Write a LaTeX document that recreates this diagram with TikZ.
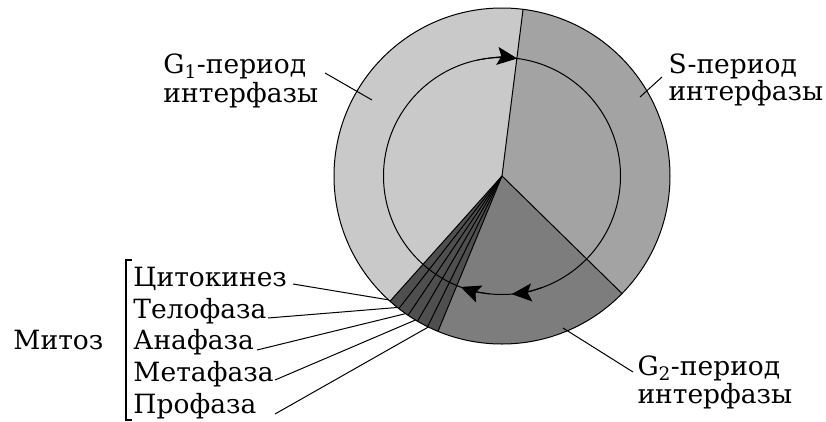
\documentclass[tikz,border=0pt]{standalone}
\usepackage{fontspec}
\setmainfont{DejaVu Serif}
\usetikzlibrary{arrows.meta}
\definecolor{cgone}{gray}{0.79}
\definecolor{cs}{gray}{0.64}
\definecolor{cgtwo}{gray}{0.49}
\definecolor{cmit}{gray}{0.31}
\begin{document}
\begin{tikzpicture}[x=1pt,y=1pt,line width=1pt,
  lbl/.style={anchor=base west,inner sep=0pt,font=\fontsize{26.5}{31}\selectfont},
  leader/.style={line width=1pt},
  cyc/.style={-{Stealth[length=20pt,width=18pt,inset=4pt]}}]
\useasboundingbox (-502,-245) rectangle (324,176);
% sectors
\fill[cgone] (0,0) -- (82.8:168pt) arc[start angle=82.8,end angle=228.2,radius=168pt] -- cycle;
\fill[cs] (0,0) -- (-44.4:168pt) arc[start angle=-44.4,end angle=82.8,radius=168pt] -- cycle;
\fill[cgtwo] (0,0) -- (-112.4:168pt) arc[start angle=-112.4,end angle=-44.4,radius=168pt] -- cycle;
\fill[cmit] (0,0) -- (228.2:168pt) arc[start angle=228.2,end angle=247.6,radius=168pt] -- cycle;
% boundaries
\foreach \a in {82.8,-44.4,247.6,228.2,232.1,236.0,239.8,243.7}
  \draw (0,0) -- (\a:168pt);
\draw (0,0) circle[radius=168pt];
% inner cycle
\draw (0,0) circle[radius=118.5pt];
\draw[cyc] (102:118.5pt) arc[start angle=102,end angle=82.6,radius=118.5pt];
\draw[cyc] (264:118.5pt) arc[start angle=264,end angle=249.5,radius=118.5pt];
\draw[cyc] (290:118.5pt) arc[start angle=290,end angle=274.7,radius=118.5pt];
% labels
\node[lbl] (g1a) at (-339,103) {G\textsubscript{1}-период};
\node[lbl] (g1b) at (-339,74) {интерфазы};
\node[lbl] (sa) at (166,103) {S-период};
\node[lbl] (sb) at (166,76) {интерфазы};
\node[lbl] (g2a) at (135,-199) {G\textsubscript{2}-период};
\node[lbl] (g2b) at (135,-227) {интерфазы};
\node[lbl] (mit) at (-489,-173) {Митоз};
\node[lbl] (cyt) at (-369,-110) {Цитокинез};
\node[lbl] (tel) at (-369,-142) {Телофаза};
\node[lbl] (ana) at (-369,-173) {Анафаза};
\node[lbl] (met) at (-369,-205) {Метафаза};
\node[lbl] (pro) at (-369,-237) {Профаза};
% leader ends
\coordinate (g1s) at (-177,103);  \coordinate (g1e) at (-130,76);
\coordinate (ss) at (160,99);     \coordinate (se) at (138,79);
\coordinate (g2s) at (131,-196);  \coordinate (g2e) at (61,-152);
\coordinate (cyts) at (-209,-108); \coordinate (cyte) at (227.5:168pt);
\coordinate (tels) at (-234,-142); \coordinate (tele) at (231.5:168pt);
\coordinate (anas) at (-245,-174); \coordinate (anae) at (235:168pt);
\coordinate (mets) at (-227,-204); \coordinate (mete) at (239:168pt);
\coordinate (pros) at (-227,-238); \coordinate (proe) at (244:168pt);
\foreach \s/\e in {g1s/g1e,ss/se,g2s/g2e,cyts/cyte,tels/tele,anas/anae,mets/mete,pros/proe}
  \draw[leader] (\s) -- (\e);
% bracket
\draw[line width=1.1pt] (-370,-84) -- (-376,-84) -- (-376,-244) -- (-370,-244);
\end{tikzpicture}
\end{document}
